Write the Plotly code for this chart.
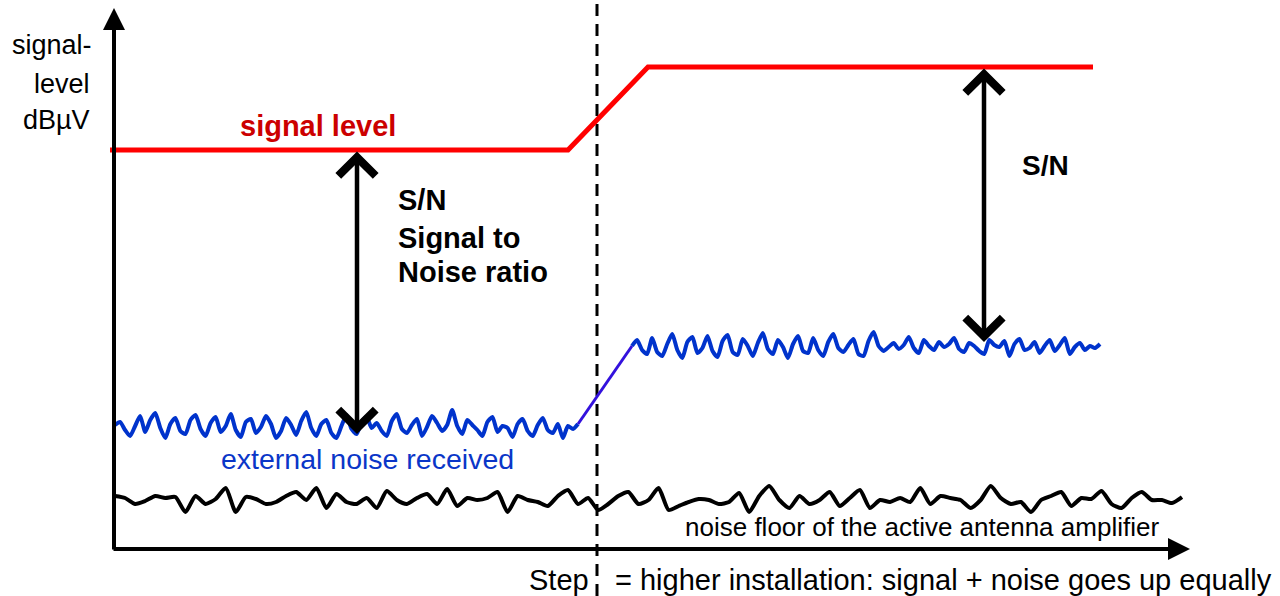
import numpy as np
import plotly.graph_objects as go

# signal level (red) - corner points of the step
signal_x = [110, 568, 648, 1093]
signal_y = [446, 446, 529, 529]

# external noise received (blue), before and after the step
noise_left = [171, 174, 166, 160, 170, 180, 164, 176, 183, 168, 158, 172, 178, 165, 162, 176, 181, 167, 160, 173,
              179, 164, 170, 182, 166, 159, 174, 177, 163, 169, 180, 172, 158, 165, 178, 171, 161, 175, 184, 168,
              160, 172, 176, 163, 158, 170, 181, 167, 162, 174, 179, 168, 173, 165, 160, 175, 182, 167, 163, 171,
              177, 160, 169, 180, 173, 165, 171, 186, 170, 162, 176, 171, 166, 160, 174, 179, 164, 170, 168, 159,
              172, 177, 165, 160, 171, 178, 166, 163, 172, 158, 170, 167, 172]
noise_right = [250, 256, 246, 242, 258, 244, 240, 252, 262, 246, 238, 254, 259, 243, 248, 260, 245, 239, 255, 261,
               244, 241, 257, 250, 240, 253, 263, 247, 242, 256, 249, 238, 252, 260, 245, 243, 258, 246, 240, 254,
               262, 248, 244, 251, 257, 242, 240, 255, 264, 250, 245, 249, 253, 247, 251, 259, 248, 243, 256, 250,
               246, 254, 249, 252, 258, 247, 244, 253, 250, 245, 242, 256, 251, 249, 255, 240, 252, 257, 246, 248,
               254, 243, 250, 256, 245, 251, 258, 242, 249, 253, 246, 250, 248, 252]
noise_left_span = [115, 578]
noise_right_span = [632, 1100]

# noise floor of the active antenna amplifier (black)
floor_noise = [100, 98, 92, 95, 100, 98, 99, 84, 100, 92, 97, 108, 84, 99, 97, 92, 94, 100, 104, 96,
               108, 88, 102, 94, 92, 98, 88, 105, 96, 92, 98, 102, 92, 107, 90, 98, 96, 98, 104, 84,
               100, 96, 94, 90, 100, 106, 92, 98, 86, 92, 100, 104, 92, 96, 108, 86, 90, 94, 97, 96,
               92, 94, 103, 84, 100, 110, 96, 88, 100, 92, 96, 104, 90, 98, 106, 88, 96, 94, 98, 94,
               108, 92, 100, 98, 96, 88, 96, 110, 98, 92, 94, 84, 96, 100, 104, 90, 98, 97, 105, 92,
               88, 98, 104, 96, 96, 93, 99]
floor_span = [115, 1182]

step_x = 597
sn_left_x = 357
sn_right_x = 984

FONT = "Arial, Liberation Sans, sans-serif"

xl = np.linspace(noise_left_span[0], noise_left_span[1], len(noise_left))
xr = np.linspace(noise_right_span[0], noise_right_span[1], len(noise_right))
xf = np.linspace(floor_span[0], floor_span[1], len(floor_noise))

fig = go.Figure()

# dashed step line
fig.add_trace(go.Scatter(x=[step_x, step_x], y=[0, 596], mode='lines',
                         line=dict(color='black', width=3, dash='12px,8px')))
# noise floor
fig.add_trace(go.Scatter(x=xf, y=floor_noise, mode='lines',
                         line=dict(color='black', width=4, shape='spline', smoothing=0.6)))
# external noise
fig.add_trace(go.Scatter(x=xl, y=noise_left, mode='lines',
                         line=dict(color='#0033cc', width=4, shape='spline', smoothing=0.6)))
fig.add_trace(go.Scatter(x=[xl[-1], xr[0]], y=[noise_left[-1], noise_right[0]], mode='lines',
                         line=dict(color='#3311dd', width=3)))
fig.add_trace(go.Scatter(x=xr, y=noise_right, mode='lines',
                         line=dict(color='#0033cc', width=4, shape='spline', smoothing=0.6)))
# signal level
fig.add_trace(go.Scatter(x=signal_x, y=signal_y, mode='lines',
                         line=dict(color='#ff0000', width=5)))

annotations = []

# axes with arrow tips
axis_x0 = 114
axis_y0 = 47
annotations.append(dict(x=axis_x0, y=588, ax=axis_x0, ay=axis_y0 - 2, xref='x', yref='y', axref='x', ayref='y',
                        text='', showarrow=True, arrowhead=2, arrowsize=1.1, arrowwidth=4, arrowcolor='black'))
annotations.append(dict(x=1190, y=axis_y0, ax=axis_x0 - 2, ay=axis_y0, xref='x', yref='y', axref='x', ayref='y',
                        text='', showarrow=True, arrowhead=2, arrowsize=1.1, arrowwidth=4, arrowcolor='black'))

# S/N double arrows
for x_arrow, y_low, y_high in [(sn_left_x, noise_left[48], signal_y[0]), (sn_right_x, 254, signal_y[-1])]:
    annotations.append(dict(x=x_arrow, y=y_low, ax=x_arrow, ay=y_high,
                            xref='x', yref='y', axref='x', ayref='y', text='', showarrow=True,
                            arrowside='end+start', arrowhead=4, startarrowhead=4, arrowsize=1.6,
                            startarrowsize=1.6, arrowwidth=4.5, arrowcolor='black'))


def label(text, x, y, size, color='black', bold=False, xanchor='center'):
    if bold:
        text = '<b>' + text + '</b>'
    annotations.append(dict(x=x, y=y, xref='x', yref='y', text=text, showarrow=False,
                            xanchor=xanchor, yanchor='middle',
                            font=dict(family=FONT, size=size, color=color)))


label('signal-', 52, 551, 27)
label('level', 62, 512, 27)
label('dBµV', 56, 476, 27)
label('signal level', 318, 470, 29, color='#cc0000', bold=True)
label('S/N', 396, 396, 29, bold=True, xanchor='left')
label('Signal to', 396, 358, 29, bold=True, xanchor='left')
label('Noise ratio', 396, 324, 29, bold=True, xanchor='left')
label('S/N', 1020, 431, 28, bold=True, xanchor='left')
label('external noise received', 367, 137, 28.5, color='#0a36c8')
label('noise floor of the active antenna amplifier', 922, 69, 26)
label('Step', 527, 16, 29, xanchor='left')
label('= higher installation: signal + noise goes up equally', 613, 16, 29, xanchor='left')

fig.update_layout(
    width=1280, height=596,
    margin=dict(l=0, r=0, t=0, b=0),
    paper_bgcolor='white', plot_bgcolor='white',
    showlegend=False,
    xaxis=dict(range=[0, 1280], visible=False, fixedrange=True),
    yaxis=dict(range=[0, 596], visible=False, fixedrange=True),
    annotations=annotations,
)

fig.write_html("out.html", config={'displayModeBar': False},
               post_script="document.body.style.margin='0';")
